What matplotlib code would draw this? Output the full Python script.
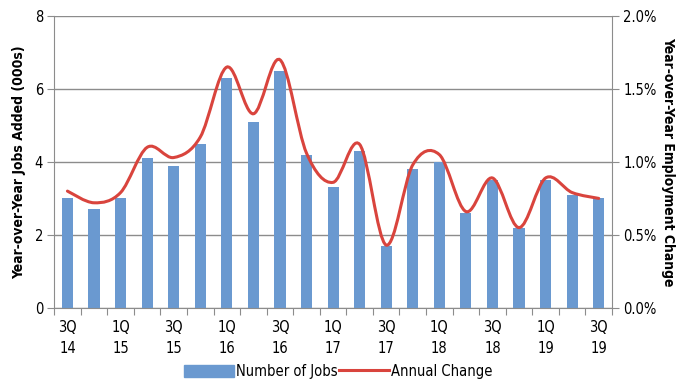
import numpy as np
import matplotlib
matplotlib.use("Agg")
import matplotlib.pyplot as plt
from matplotlib.path import Path
from matplotlib.patches import PathPatch
from matplotlib.lines import Line2D
from matplotlib.ticker import FixedLocator, FuncFormatter

plt.rcParams["font.family"] = ["DejaVu Sans"]
plt.rcParams["font.stretch"] = "condensed"

# Data
QUARTERS = ["3Q\n14", "4Q\n14", "1Q\n15", "2Q\n15", "3Q\n15", "4Q\n15", "1Q\n16", "2Q\n16",
            "3Q\n16", "4Q\n16", "1Q\n17", "2Q\n17", "3Q\n17", "4Q\n17", "1Q\n18", "2Q\n18",
            "3Q\n18", "4Q\n18", "1Q\n19", "2Q\n19", "3Q\n19"]
JOBS = [3.0, 2.7, 3.0, 4.1, 3.9, 4.5, 6.3, 5.1, 6.5, 4.2, 3.3, 4.3, 1.7, 3.8, 4.0, 2.6,
        3.5, 2.2, 3.5, 3.1, 3.0]
ANNUAL_CHANGE = [0.80, 0.72, 0.79, 1.10, 1.03, 1.17, 1.65, 1.33, 1.70, 1.06, 0.86, 1.12,
                 0.43, 0.98, 1.05, 0.66, 0.89, 0.55, 0.89, 0.79, 0.75]

BAR_COLOR = "#6A99D0"
LINE_COLOR = "#D9443D"
GRID_COLOR = "#8C8C8C"


def smooth_path(x, y):
    # Excel-style smoothed line: cubic Bezier segments
    x = np.asarray(x, dtype=float)
    y = np.asarray(y, dtype=float)
    n = len(x)
    verts = [(x[0], y[0])]
    codes = [Path.MOVETO]
    for i in range(n - 1):
        p0 = (x[max(i - 1, 0)], y[max(i - 1, 0)])
        p1 = (x[i], y[i])
        p2 = (x[i + 1], y[i + 1])
        p3 = (x[min(i + 2, n - 1)], y[min(i + 2, n - 1)])
        c1 = (p1[0] + (p2[0] - p0[0]) / 6, p1[1] + (p2[1] - p0[1]) / 6)
        c2 = (p2[0] - (p3[0] - p1[0]) / 6, p2[1] - (p3[1] - p1[1]) / 6)
        verts += [c1, c2, p2]
        codes += [Path.CURVE4] * 3
    return Path(verts, codes)


fig = plt.figure(figsize=(6.77, 3.81), dpi=100)
ax = fig.add_axes([0.080, 0.192, 0.824, 0.766])
ax2 = ax.twinx()

x = np.arange(len(JOBS))
ax.bar(x, JOBS, width=0.42, color=BAR_COLOR, zorder=2)

ax.set_xlim(-0.5, len(JOBS) - 0.5)
ax.set_ylim(0, 8)
ax.yaxis.set_major_locator(FixedLocator([0, 2, 4, 6, 8]))
ax.grid(axis="y", color=GRID_COLOR, linewidth=1.0, zorder=0)
ax.set_axisbelow(True)

# category boundary ticks, labels every other quarter
ax.xaxis.set_major_locator(FixedLocator(np.arange(-0.5, len(JOBS), 1.0)))
ax.xaxis.set_major_formatter(FuncFormatter(lambda v, pos: ""))
ax.xaxis.set_minor_locator(FixedLocator(x[::2]))
ax.set_xticklabels([QUARTERS[i] for i in x[::2]], minor=True)
ax.tick_params(axis="x", which="major", length=5, color=GRID_COLOR, direction="out")
ax.tick_params(axis="x", which="minor", length=0, pad=9, labelsize=10.5)
for lbl in ax.get_xticklabels(minor=True):
    lbl.set_linespacing(1.45)
ax.tick_params(axis="y", length=5, color=GRID_COLOR, labelsize=10.5, pad=3)

for s in ["top", "right"]:
    ax.spines[s].set_visible(False)
for s in ["left", "bottom"]:
    ax.spines[s].set_color(GRID_COLOR)

ax.set_ylabel("Year-over-Year Jobs Added (000s)", fontsize=10, fontweight="bold", labelpad=6)

# line on secondary axis
ax2.set_ylim(0, 2.0)
ax2.yaxis.set_major_locator(FixedLocator([0, 0.5, 1.0, 1.5, 2.0]))
ax2.yaxis.set_major_formatter(FuncFormatter(lambda v, pos: f"{v:.1f}%"))
ax2.tick_params(axis="y", length=5, color=GRID_COLOR, labelsize=10.5, pad=3)
for s in ["top", "left", "bottom"]:
    ax2.spines[s].set_visible(False)
ax2.spines["right"].set_color(GRID_COLOR)
ax2.add_patch(PathPatch(smooth_path(x, ANNUAL_CHANGE), facecolor="none",
                        edgecolor=LINE_COLOR, linewidth=2.2, capstyle="round", zorder=3))
ax2.set_ylabel("Year-over-Year Employment Change", fontsize=10, fontweight="bold",
               rotation=270, labelpad=13)

handles = [plt.Rectangle((0, 0), 1, 1, color=BAR_COLOR),
           Line2D([0], [0], color=LINE_COLOR, linewidth=2.2)]
fig.legend(handles, ["Number of Jobs", "Annual Change"], loc="center",
           bbox_to_anchor=(0.5, 0.026), ncol=2, frameon=False, fontsize=10.5,
           handlelength=3.4, handleheight=0.9, columnspacing=0.1, handletextpad=0.15)

fig.savefig("out.png", dpi=100)
